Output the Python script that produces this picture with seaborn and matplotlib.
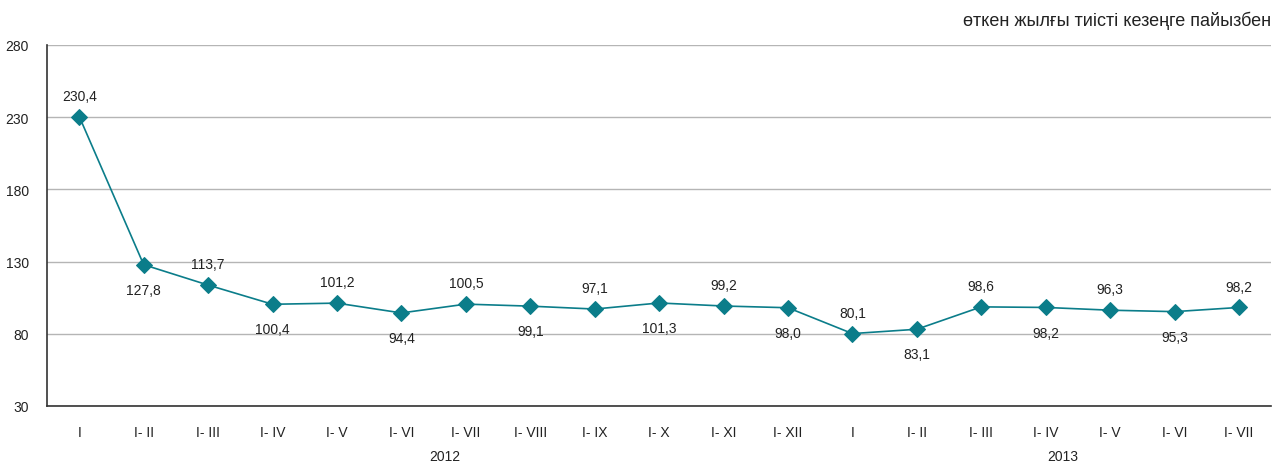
import pandas as pd
import numpy as np
import matplotlib.pyplot as plt
import seaborn as sns

periods = ['I', 'I- II', 'I- III', 'I- IV', 'I- V', 'I- VI', 'I- VII', 'I- VIII', 'I- IX',
           'I- X', 'I- XI', 'I- XII',
           'I', 'I- II', 'I- III', 'I- IV', 'I- V', 'I- VI', 'I- VII']
values = [230.4, 127.8, 113.7, 100.4, 101.2, 94.4, 100.5, 99.1, 97.1,
          101.3, 99.2, 98.0,
          80.1, 83.1, 98.6, 98.2, 96.3, 95.3, 98.2]
label_side = ['up', 'down', 'up', 'down', 'up', 'down', 'up', 'down', 'up',
              'down', 'up', 'down',
              'up', 'down', 'up', 'down', 'up', 'down', 'up']
years = ['2012', '2013']

df = pd.DataFrame({'pos': np.arange(len(values)), 'value': values})

sns.set_style('white')
plt.rcParams['font.family'] = ['Liberation Sans', 'DejaVu Sans']

teal = '#0b7d8a'
fig = plt.figure(figsize=(12.75, 4.64), dpi=100)
ax = fig.add_axes([0.0369, 0.123, 0.9601, 0.778])

sns.lineplot(data=df, x='pos', y='value', ax=ax, color=teal, linewidth=1.2,
             marker='D', markersize=8, markeredgecolor=teal, zorder=3)

# data labels
for i, (v, side) in enumerate(zip(values, label_side)):
    dy = 10 if side == 'up' else -13
    ax.annotate(f'{v:.1f}'.replace('.', ','), (i, v), xytext=(0, dy),
                textcoords='offset points', ha='center',
                va='bottom' if side == 'up' else 'top',
                fontsize=10, color='#222222')

ax.set_xlim(-0.5, len(values) - 0.5)
ax.set_ylim(30, 280)
ax.set_yticks([30, 80, 130, 180, 230, 280])
ax.yaxis.grid(True, color='#b5b5b5', linewidth=1)
ax.set_axisbelow(True)

ax.set_xticks(np.arange(len(values)))
ax.set_xticklabels(periods)
ax.set_xticks(np.arange(-0.5, len(values)), minor=True)
ax.tick_params(axis='x', which='major', length=0, pad=14, labelsize=10, colors='#222222')
ax.tick_params(axis='x', which='minor', length=5, width=1, color='#333333', direction='out')
ax.tick_params(axis='y', length=5, width=1, color='#333333', direction='out',
               labelsize=10, colors='#222222', pad=8)
ax.set_xlabel('')
ax.set_ylabel('')

for s in ['top', 'right']:
    ax.spines[s].set_visible(False)
for s in ['left', 'bottom']:
    ax.spines[s].set_color('#333333')
    ax.spines[s].set_linewidth(1.2)

# year labels
ax.text(0.325, -0.12, years[0], transform=ax.transAxes, ha='center', va='top',
        fontsize=10, color='#222222')
ax.text(0.83, -0.12, years[1], transform=ax.transAxes, ha='center', va='top',
        fontsize=10, color='#222222')

fig.text(0.997, 0.955, 'өткен жылғы тиісті кезеңге пайызбен', ha='right', va='center',
         fontsize=13, color='#222222')

plt.savefig('out.png', dpi=100)
plt.close()
